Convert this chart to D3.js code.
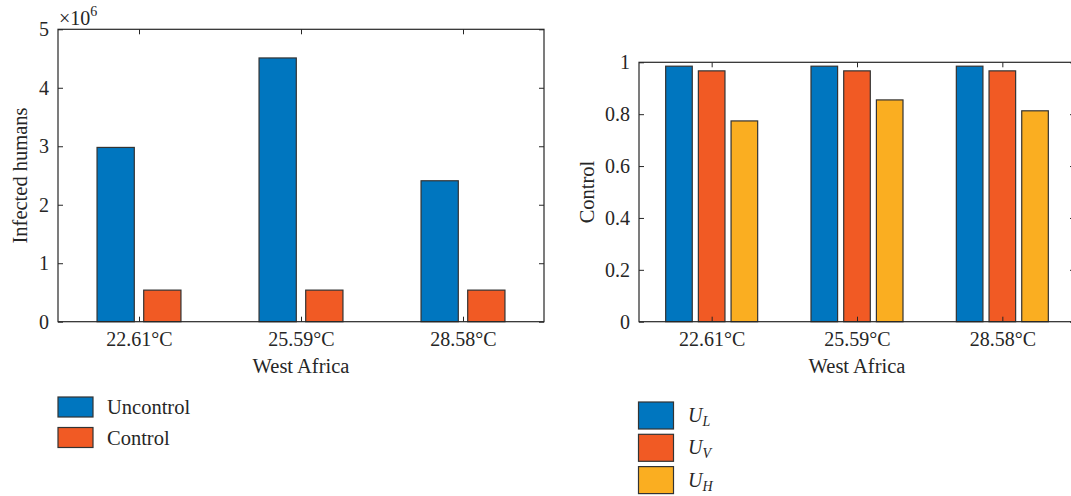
<!DOCTYPE html>
<html>
<head>
<meta charset="utf-8">
<script src="https://cdn.jsdelivr.net/npm/d3@7"></script>
<style>
  body { margin: 0; background: #fff; }
  svg { display: block; font-family: "Liberation Serif", "DejaVu Serif", serif; }
  .axis text { font-size: 20px; fill: #262626; font-family: "Liberation Serif", "DejaVu Serif", serif; }
  .axis line { stroke: #262626; }
  .axis path { display: none; }
</style>
</head>
<body>
<svg id="chart"></svg>
<script>
// Data
const temps = ['22.61°C', '25.59°C', '28.58°C'];
const uncontrolled = [2.98e6, 4.51e6, 2.41e6];
const controlled = [0.54e6, 0.54e6, 0.54e6];
const uL = [0.985, 0.985, 0.985];
const uV = [0.967, 0.967, 0.967];
const uH = [0.774, 0.855, 0.813];
const leftTicks = [0, 1, 2, 3, 4, 5];
const rightTicks = [0, 0.2, 0.4, 0.6, 0.8, 1];

const WIDTH = 1071;
const HEIGHT = 496;
const BLUE = '#0076bf';
const ORANGE = '#f15a24';
const YELLOW = '#faae21';
const FONT = '"Liberation Serif", "DejaVu Serif", serif';

let svg = d3.select('#chart')
    .attr('width', WIDTH)
    .attr('height', HEIGHT);

// Draw one boxed bar panel (matlab-ish: ticks inward on all four sides)
function drawPanel(opts) {
    const w = opts.right - opts.left;
    const h = opts.bottom - opts.top;

    let xScale = d3.scaleLinear().domain([0.5, 3.5]).range([0, w]);
    let yScale = d3.scaleLinear().domain(opts.yDomain).range([h, 0]);

    let g = svg.append('g')
        .attr('transform', `translate(${opts.left}, ${opts.top})`);

    // bars
    opts.series.forEach((s, si) => {
        g.selectAll('.bar-' + si)
            .data(s.values)
            .enter().append('rect')
            .attr('x', (d, i) => xScale(i + 1 + opts.offsets[si] - opts.barWidth / 2))
            .attr('width', xScale(opts.barWidth) - xScale(0))
            .attr('y', d => yScale(d / opts.scaleBy))
            .attr('height', d => h - yScale(d / opts.scaleBy))
            .style('fill', s.color)
            .style('stroke', '#333')
            .style('stroke-width', 1.2);
    });

    let xAxis = d3.axisBottom(xScale)
        .tickValues([1, 2, 3])
        .tickFormat((d, i) => temps[i])
        .tickSizeInner(-5).tickSizeOuter(0).tickPadding(10);
    let xTop = d3.axisTop(xScale)
        .tickValues([1, 2, 3])
        .tickFormat('')
        .tickSizeInner(-5).tickSizeOuter(0);
    let yAxis = d3.axisLeft(yScale)
        .tickValues(opts.ticks)
        .tickFormat(d => d3.format('~g')(d))
        .tickSizeInner(-5).tickSizeOuter(0).tickPadding(9);
    let yRight = d3.axisRight(yScale)
        .tickValues(opts.ticks)
        .tickFormat('')
        .tickSizeInner(-5).tickSizeOuter(0);

    g.append('g').attr('class', 'axis').attr('transform', `translate(0, ${h})`).call(xAxis)
        .attr('font-family', FONT).attr('font-size', 20);
    g.append('g').attr('class', 'axis').call(xTop);
    g.append('g').attr('class', 'axis').call(yAxis)
        .attr('font-family', FONT).attr('font-size', 20);
    g.append('g').attr('class', 'axis').attr('transform', `translate(${w}, 0)`).call(yRight);

    g.append('rect')
        .attr('width', w)
        .attr('height', h)
        .style('fill', 'none')
        .style('stroke', '#262626')
        .style('stroke-width', 1.2);

    // axis titles
    g.append('text')
        .attr('x', w / 2)
        .attr('y', h + 51)
        .attr('text-anchor', 'middle')
        .style('font-size', '20.5px')
        .style('fill', '#262626')
        .text('West Africa');

    g.append('text')
        .attr('transform', `translate(${opts.yLabelX - opts.left}, ${h / 2}) rotate(-90)`)
        .attr('text-anchor', 'middle')
        .style('font-size', '20.5px')
        .style('fill', '#262626')
        .text(opts.yLabel);

    return g;
}

drawPanel({
    left: 58, right: 544, top: 29.3, bottom: 321.7,
    yDomain: [0, 5], ticks: leftTicks, scaleBy: 1e6,
    barWidth: 0.23, offsets: [-0.144, 0.144],
    series: [
        { values: uncontrolled, color: BLUE },
        { values: controlled, color: ORANGE }
    ],
    yLabel: 'Infected humans', yLabelX: 27
});

// exponent label
let expo = svg.append('text')
    .attr('x', 59)
    .attr('y', 25)
    .style('font-size', '20px')
    .style('fill', '#262626');
expo.append('tspan').text('×10');
expo.append('tspan').attr('dy', -9).style('font-size', '14px').text('6');

drawPanel({
    left: 639, right: 1075, top: 62.3, bottom: 321.7,
    yDomain: [0, 1], ticks: rightTicks, scaleBy: 1,
    barWidth: 0.183, offsets: [-0.225, 0, 0.225],
    series: [
        { values: uL, color: BLUE },
        { values: uV, color: ORANGE },
        { values: uH, color: YELLOW }
    ],
    yLabel: 'Control', yLabelX: 594
});

// legends
const leftLegend = [
    { name: 'Uncontrol', color: BLUE },
    { name: 'Control', color: ORANGE }
];
let lg = svg.append('g');
leftLegend.forEach((d, i) => {
    let y = 397 + i * 30.5;
    lg.append('rect')
        .attr('x', 58).attr('y', y)
        .attr('width', 35).attr('height', 20)
        .style('fill', d.color).style('stroke', '#333').style('stroke-width', 1.2);
    lg.append('text')
        .attr('x', 107).attr('y', y + 17)
        .style('font-size', '20.5px').style('fill', '#262626')
        .text(d.name);
});

const rightLegend = [
    { sub: 'L', color: BLUE },
    { sub: 'V', color: ORANGE },
    { sub: 'H', color: YELLOW }
];
let rg = svg.append('g');
rightLegend.forEach((d, i) => {
    let y = 402 + i * 32.3;
    rg.append('rect')
        .attr('x', 638.5).attr('y', y)
        .attr('width', 35).attr('height', 27)
        .style('fill', d.color).style('stroke', '#333').style('stroke-width', 1.2);
    let t = rg.append('text')
        .attr('x', 688).attr('y', y + 20)
        .style('font-size', '20px').style('font-style', 'italic').style('fill', '#262626');
    t.append('tspan').text('U');
    t.append('tspan').attr('dy', 4).style('font-size', '14px').text(d.sub);
});
</script>
</body>
</html>
